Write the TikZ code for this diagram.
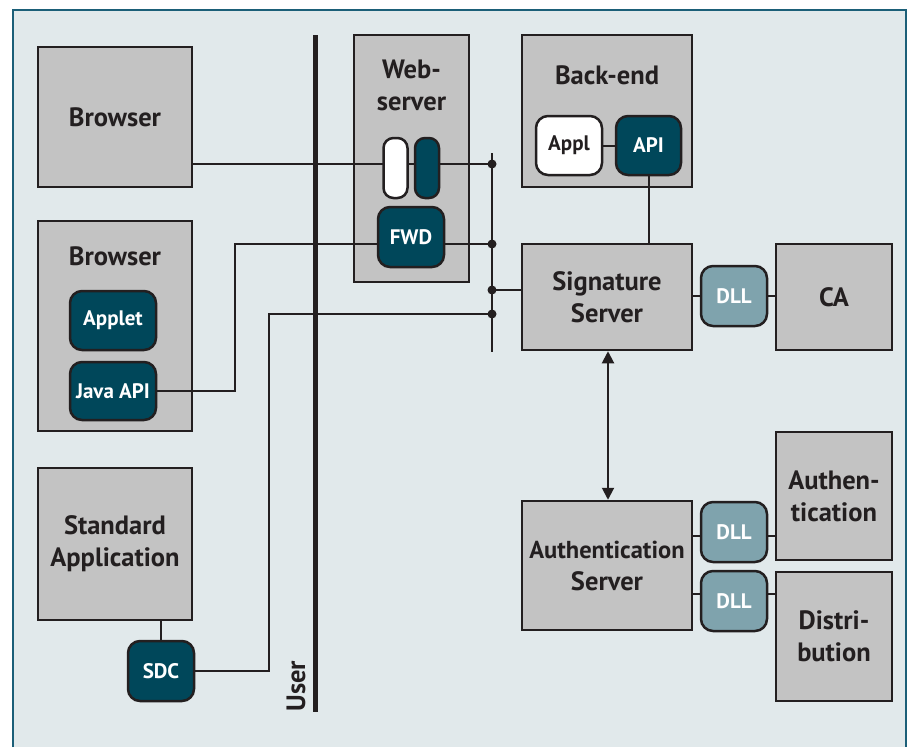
\documentclass[tikz,border=0pt]{standalone}
\usepackage{fontspec}
\setmainfont{PT Sans}
\usetikzlibrary{arrows.meta}
\pgfdeclarelayer{background}
\pgfdeclarelayer{edges}
\pgfsetlayers{background,edges,main}

\definecolor{panelbg}{HTML}{E1E9EB}
\definecolor{panelrim}{HTML}{1B5F78}
\definecolor{boxgray}{HTML}{C3C3C3}
\definecolor{ink}{HTML}{231F20}
\definecolor{darkteal}{HTML}{00475A}
\definecolor{lightteal}{HTML}{7FA3AD}

\tikzset{
  bigfont/.style={font=\fontsize{26.5}{32}\selectfont\bfseries},
  smallfont/.style={font=\fontsize{21}{25}\selectfont\bfseries},
  greybox/.style={draw=ink, line width=2.5pt, fill=boxgray, text=ink, bigfont,
    align=center, inner sep=0pt},
  modbox/.style={draw=ink, line width=2.5pt, fill=darkteal, text=white, smallfont,
    rounded corners=12pt, inner sep=0pt},
  dllbox/.style={modbox, fill=lightteal},
  pill/.style={draw=ink, line width=2.5pt, rounded corners=10pt, inner sep=0pt,
    minimum width=24pt, minimum height=60pt},
  caption/.style={text=ink, bigfont, align=center, inner sep=0pt},
  wire/.style={draw=ink, line width=2pt},
  junction/.style={fill=ink, circle, inner sep=0pt, minimum size=9pt}
}

\begin{document}
\begin{tikzpicture}[x=1pt, y=-1pt]
  \useasboundingbox (0,0) rectangle (912,747);

  % page, panel and containers
  \begin{pgfonlayer}{background}
    \fill[white] (0,0) rectangle (912,747);
    \fill[panelbg] (13,10) rectangle (906,747);
    \draw[panelrim, line width=2.5pt] (13,747) -- (13,10) -- (906,10) -- (906,747);
    \node[greybox, minimum width=154pt, minimum height=210pt] (browser2) at (115,326) {};
    \node[greybox, minimum width=115pt, minimum height=247pt] (web) at (411.5,158.5) {};
    \node[greybox, minimum width=170pt, minimum height=152pt] (backend) at (607,111) {};
  \end{pgfonlayer}

  % container captions
  \node[caption] (browser2txt) at (115,256) {Browser};
  \node[caption] (webtxt) at (411.5,85) {Web-\\server};
  \node[caption] (backendtxt) at (607,75) {Back-end};

  % stand-alone boxes
  \node[greybox, minimum width=154pt, minimum height=140pt] (browser1) at (115,117) {Browser};
  \node[greybox, minimum width=154pt, minimum height=152pt] (stdapp) at (115,544) {Standard\\Application};
  \node[greybox, minimum width=170pt, minimum height=106pt] (sig) at (607,297) {Signature\\Server};
  \node[greybox, minimum width=116pt, minimum height=106pt] (ca) at (834,297) {CA};
  \node[greybox, minimum width=170pt, minimum height=129pt] (authsrv) at (607,565.5)
    {{\fontsize{24.5}{32}\selectfont Authentication}\\Server};
  \node[greybox, minimum width=116pt, minimum height=128pt] (authen) at (834,496) {Authen-\\tication};
  \node[greybox, minimum width=116pt, minimum height=129pt] (distri) at (834,636.5) {Distri-\\bution};

  % modules
  \node[modbox, minimum width=86pt, minimum height=59pt] (applet) at (113,320.5) {Applet};
  \node[modbox, minimum width=86pt, minimum height=58pt] (javaapi) at (113,391) {Java API};
  \node[modbox, minimum width=66pt, minimum height=60pt] (sdc) at (161,671) {SDC};
  \node[pill, fill=white] (pillw) at (395.5,168) {};
  \node[pill, fill=darkteal] (pilld) at (427,168) {};
  \node[modbox, minimum width=66pt, minimum height=60pt] (fwd) at (411,237) {FWD};
  \node[modbox, fill=white, text=ink, minimum width=66pt, minimum height=59pt] (appl) at (569,145.5) {Appl};
  \node[modbox, minimum width=65pt, minimum height=59pt] (api) at (648.5,145.5) {API};
  \node[dllbox, minimum width=66pt, minimum height=60pt] (dll1) at (734,296) {DLL};
  \node[dllbox, minimum width=66pt, minimum height=60pt] (dll2) at (734,532) {DLL};
  \node[dllbox, minimum width=66pt, minimum height=60pt] (dll3) at (734,601) {DLL};

  % user boundary
  \coordinate (usertop) at (315,35);
  \coordinate (userbot) at (315,712);
  \draw[ink, line width=5pt] (usertop) -- (userbot);
  \node[caption, rotate=90] (usertxt) at (296,686) {User};

  % bus with junctions
  \coordinate (bustop) at (492,153);
  \coordinate (busbot) at (492,352);
  \node[junction] (j1) at (492,164) {};
  \node[junction] (j2) at (492,244) {};
  \node[junction] (j3) at (492,290) {};
  \node[junction] (j4) at (492,314) {};
  \coordinate (bendjava) at (235,244);
  \coordinate (bendsdc) at (269,314);

  \begin{pgfonlayer}{edges}
    \draw[wire] (bustop) -- (busbot);
    \draw[wire] (browser1.east |- j1) -- (j1.center);
    \draw[wire] (javaapi.east) -| (bendjava) -- (j2.center);
    \draw[wire] (sdc.east) -| (bendsdc) -- (j4.center);
    \draw[wire] (j3.center) -- (sig.west |- j3);
    \draw[wire] (appl.east) -- (api.west);
    \draw[wire] (api.south) -- (api.south |- sig.north);
    \draw[wire] (sdc.north) -- (sdc.north |- stdapp.south);
    \draw[wire] (sig.east |- dll1.west) -- (dll1.west);
    \draw[wire] (dll1.east) -- (ca.west |- dll1.east);
    \draw[wire] (authsrv.east |- 0,536) -- (dll2.west |- 0,536);
    \draw[wire] (dll2.east |- 0,536) -- (authen.west |- 0,536);
    \draw[wire] (authsrv.east |- 0,594) -- (dll3.west |- 0,594);
    \draw[wire] (dll3.east |- 0,594) -- (distri.west |- 0,594);
  \end{pgfonlayer}

  % link between the two servers
  \draw[wire, {Triangle[length=12pt,width=12pt]}-{Triangle[length=12pt,width=12pt]}]
    (sig.south -| 608,0) -- (authsrv.north -| 608,0);
\end{tikzpicture}
\end{document}
